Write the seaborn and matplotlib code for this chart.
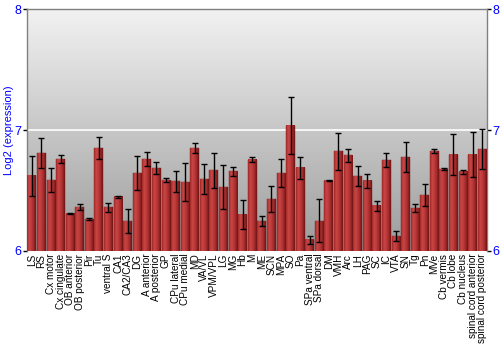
import numpy as np
import pandas as pd
import matplotlib
matplotlib.use("Agg")
import matplotlib.pyplot as plt
import seaborn as sns
from matplotlib.colors import LinearSegmentedColormap

categories = ["LS", "RS", "Cx motor", "Cx cingulate", "OB anterior", "OB posterior", "Pir", "Tu",
              "ventral S", "CA1", "CA2/CA3", "DG", "A anterior", "A posterior", "GP", "CPu lateral",
              "CPu medial", "MD", "VA/VL", "VPM/VPL", "LG", "MG", "Hb", "M", "ME", "SCN", "MPA",
              "SO", "Pa", "SPa ventral", "SPa dorsal", "DM", "VMH", "Arc", "LH", "PAG", "SC", "IC",
              "VTA", "SN", "Tg", "Pn", "MVe", "Cb vermis", "Cb lobe", "Cb nucleus",
              "spinal cord anterior", "spinal cord posterior"]
values = [6.622, 6.807, 6.584, 6.760, 6.309, 6.361, 6.264, 6.849,
          6.361, 6.449, 6.245, 6.645, 6.760, 6.686, 6.587, 6.576,
          6.570, 6.849, 6.595, 6.667, 6.529, 6.658, 6.300, 6.755, 6.248, 6.430, 6.645,
          7.036, 6.688, 6.091, 6.248, 6.581, 6.826, 6.791, 6.620, 6.579, 6.375, 6.749,
          6.124, 6.777, 6.355, 6.463, 6.826, 6.678, 6.796, 6.656,
          6.796, 6.843]
errors = [0.166, 0.125, 0.100, 0.036, 0.005, 0.024, 0.011, 0.090,
          0.037, 0.007, 0.100, 0.137, 0.060, 0.047, 0.017, 0.088,
          0.155, 0.040, 0.127, 0.147, 0.180, 0.036, 0.120, 0.022, 0.040, 0.107, 0.116,
          0.237, 0.090, 0.030, 0.178, 0.004, 0.153, 0.052, 0.084, 0.056, 0.041, 0.058,
          0.043, 0.122, 0.034, 0.090, 0.020, 0.010, 0.167, 0.017,
          0.187, 0.168]
yticks = [6, 7, 8]
ymin, ymax = 6, 8

df = pd.DataFrame({"region": categories, "value": values, "err": errors})

plt.rcParams['font.family'] = ['Liberation Sans', 'DejaVu Sans']
fig = plt.figure(figsize=(5, 3.5), dpi=100)
ax = fig.add_axes([0.054, 0.283, 0.92, 0.691])

sns.barplot(data=df, x="region", y="value", color="#b03030", width=0.92,
            ax=ax, zorder=3, errorbar=None)

n = len(categories)

# background gradient
bg = np.linspace(0, 1, 256).reshape(-1, 1)
bg_cmap = LinearSegmentedColormap.from_list("bg", ["#f2f2f2", "#9c9c9c"])
ax.imshow(bg, aspect="auto", cmap=bg_cmap, extent=[-0.5, n - 0.5, ymin, ymax],
          zorder=0, origin="upper")
ax.axhline(7, color="white", lw=1.2, zorder=1)

# bar gradients
bar_cmap = LinearSegmentedColormap.from_list(
    "bar", ["#a02828", "#c84646", "#bd3a3a", "#a02a2a", "#6e1414"])
hgrad = np.linspace(0, 1, 64).reshape(1, -1)
for p in ax.patches:
    x0, w = p.get_x(), p.get_width()
    top = p.get_y() + p.get_height()
    ax.imshow(hgrad, aspect="auto", cmap=bar_cmap,
              extent=[x0, x0 + w, ymin, top], zorder=3.5)
    p.set_edgecolor("#7a1a1a")
    p.set_linewidth(0.3)

centers = [p.get_x() + p.get_width() / 2 for p in ax.patches]
ax.errorbar(centers, df["value"], yerr=df["err"], fmt="none", ecolor="black",
            elinewidth=1.0, capsize=2.5, capthick=1.0, zorder=5)

ax.set_ylim(ymin, ymax)
ax.set_xlim(-0.5, n - 0.5)

ax.set_xlabel("")
ax.set_ylabel("Log2 (expression)", color="blue", fontsize=8)
ax.yaxis.set_label_coords(-0.028, 0.5)
ax.set_yticks(yticks)
ax.set_yticklabels([str(t) for t in yticks], color="blue", fontsize=9)
ax.tick_params(axis="y", which="both", left=True, right=True, labelleft=True,
               labelright=True, length=3, width=1, color="black", pad=1)
ax.tick_params(axis="x", length=0, pad=2)
ax.set_xticks(range(n))
ax.set_xticklabels(categories, rotation=90, fontsize=7.2, color="black")

for s in ax.spines.values():
    s.set_color("#808080")
    s.set_linewidth(1)
ax.spines["bottom"].set_visible(False)

fig.savefig("out.png", dpi=100)
